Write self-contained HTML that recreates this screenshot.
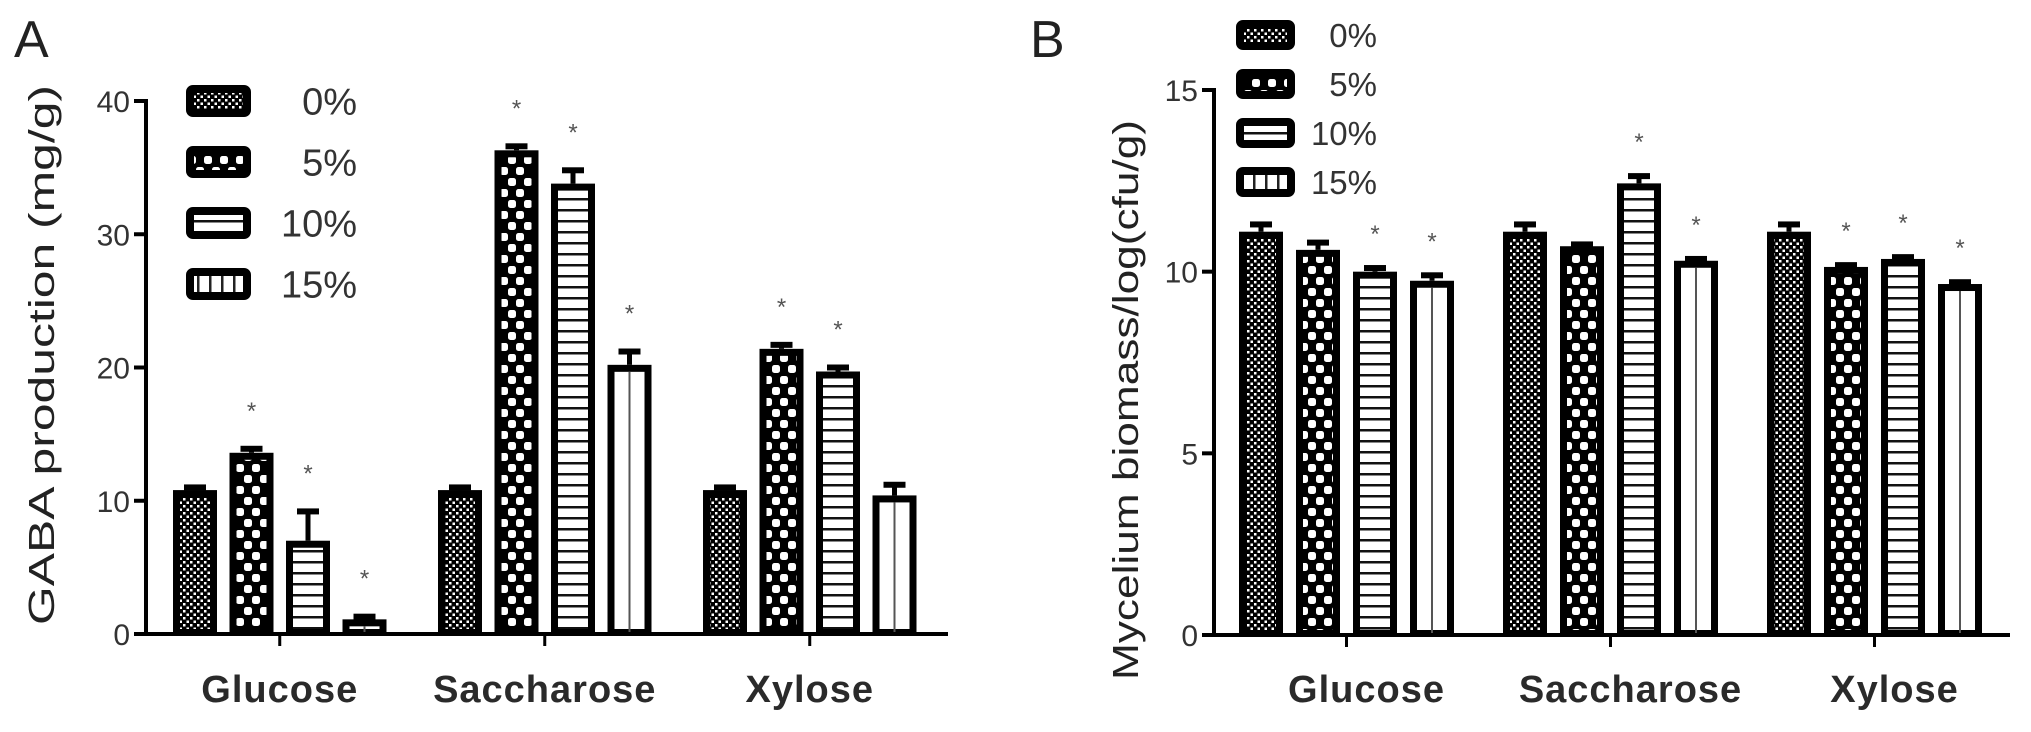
<!DOCTYPE html>
<html><head><meta charset="utf-8">
<style>
html,body{margin:0;padding:0;background:#fff;}
svg{display:block;}
text{font-family:"Liberation Sans",Arial,sans-serif;}
</style></head>
<body>
<svg id="fig" width="2031" height="732" viewBox="0 0 2031 732" xmlns="http://www.w3.org/2000/svg">
<defs>
  <pattern id="p0" patternUnits="userSpaceOnUse" width="7" height="7">
    <rect width="7" height="7" fill="#000"/>
    <rect x="1" y="1" width="2.5" height="2.5" fill="#fff"/>
    <rect x="4.5" y="4.5" width="2.5" height="2.5" fill="#fff"/>
  </pattern>
  <pattern id="p1" patternUnits="userSpaceOnUse" width="16" height="22">
    <rect width="16" height="22" fill="#000"/>
    <rect x="-4" y="2" width="8" height="8" rx="2.5" fill="#fff"/>
    <rect x="12" y="2" width="8" height="8" rx="2.5" fill="#fff"/>
    <rect x="4" y="13" width="8" height="8" rx="2.5" fill="#fff"/>
  </pattern>
  <pattern id="p2" patternUnits="userSpaceOnUse" width="10" height="11">
    <rect width="10" height="11" fill="#fff"/>
    <rect y="0" width="10" height="2.5" fill="#111"/>
  </pattern>
  <pattern id="p3" patternUnits="userSpaceOnUse" width="12" height="10">
    <rect width="12" height="10" fill="#fff"/>
    <rect x="5" width="2.5" height="10" fill="#222"/>
  </pattern>
</defs>
<g id="chartA"></g>
<g id="chartB"></g>
</svg>
<script>
const categories = ["Glucose", "Saccharose", "Xylose"];
const seriesNames = ["0%", "5%", "10%", "15%"];
// Chart A: GABA production (mg/g)
const gabaValues = [[10.8, 13.6, 7.0, 1.1],[10.8, 36.3, 33.8, 20.2],[10.8, 21.4, 19.7, 10.4]];
const gabaErrors = [[0.2, 0.3, 2.2, 0.2],[0.2, 0.3, 1.0, 1.0],[0.2, 0.3, 0.3, 0.8]];
const gabaSig = [[false, true, true, true],[false, true, true, true],[false, true, true, false]];
const gabaTicks = [0, 10, 20, 30, 40];
// Chart B: Mycelium biomass log(cfu/g)
const bioValues = [[11.1, 10.6, 10.0, 9.75],[11.1, 10.7, 12.43, 10.3],[11.1, 10.13, 10.35, 9.66]];
const bioErrors = [[0.2, 0.2, 0.1, 0.15],[0.2, 0.05, 0.2, 0.05],[0.2, 0.05, 0.05, 0.05]];
const bioSig = [[false, false, true, true],[false, false, true, true],[false, true, true, true]];
const bioTicks = [0, 5, 10, 15];

const NS = "http://www.w3.org/2000/svg";
function mk(parent, tag, attrs, txt){
  const e = document.createElementNS(NS, tag);
  for (const k in attrs) e.setAttribute(k, attrs[k]);
  if (txt !== undefined) e.textContent = txt;
  parent.appendChild(e);
  return e;
}
const fills = ["url(#p0)", "url(#p1)", "url(#p2)", "#fff"];

function drawChart(g, cfg){
  const y = v => cfg.y0 - v * (cfg.y0 - cfg.yTop) / cfg.yMax;
  const bx = (c, s) => cfg.x0 + c * cfg.groupPitch + s * cfg.barPitch;
  const letter = mk(g, "text", {x: cfg.letterX, y: 57, "font-size": 52, fill: "#222"}, cfg.letter);
  
  
  const yt = mk(g, "text", {x: 0, y: 0, "font-size": 36, fill: "#222", "text-anchor": "middle",
    textLength: cfg.titleLen, lengthAdjust: "spacingAndGlyphs",
    transform: `translate(${cfg.titleX},${cfg.titleY}) rotate(-90)`}, cfg.title);
  
  
  const ya = mk(g, "line", {x1: cfg.axisX, y1: y(cfg.yMax) - 2, x2: cfg.axisX, y2: cfg.y0 + 2, stroke: "#000", "stroke-width": 4});
  
  
  cfg.ticks.forEach(t => {
    const tk = mk(g, "line", {x1: cfg.axisX - 12, y1: y(t), x2: cfg.axisX, y2: y(t), stroke: "#000", "stroke-width": 4});
    
    
    const tl = mk(g, "text", {x: cfg.axisX - 16, y: y(t) + 11, "font-size": 30, fill: "#333", "text-anchor": "end"}, String(t));
    
    
  });
  const xa = mk(g, "line", {x1: cfg.axisX, y1: cfg.y0, x2: cfg.axisEnd, y2: cfg.y0, stroke: "#000", "stroke-width": 4});
  
  
  categories.forEach((cat, c) => {
    const cx = bx(c, 0) + (3 * cfg.barPitch + cfg.barW) / 2;
    const tk = mk(g, "line", {x1: cx, y1: cfg.y0, x2: cx, y2: cfg.y0 + 12, stroke: "#000", "stroke-width": 3});
    
    
    const lb = mk(g, "text", {x: cx + cfg.labelShift, y: 702, "font-size": 38, "font-weight": "bold", fill: "#2a2a2a", "text-anchor": "middle", "letter-spacing": "1"}, cat);
    
    
    seriesNames.forEach((sn, s) => {
      const v = cfg.values[c][s], e = cfg.errors[c][s];
      const x = bx(c, s);
      const top = y(v);
      const cxb = x + cfg.barW / 2;
      const el = mk(g, "line", {x1: cxb, y1: y(v + e), x2: cxb, y2: top, stroke: "#000", "stroke-width": 5});
      
      
      const cap = mk(g, "rect", {x: cxb - 11, y: y(v + e) - 3, width: 22, height: 6, fill: "#000"});
      
      
      const r = mk(g, "rect", {x: x + 3.5, y: top + 3.5, width: cfg.barW - 7, height: Math.max(cfg.y0 - top - 5, 0), fill: fills[s], stroke: "#000", "stroke-width": 7});
      
      
      if (s === 3) {
        const ln = mk(g, "line", {x1: cxb, y1: top + 7, x2: cxb, y2: cfg.y0 - 2, stroke: "#555", "stroke-width": 2});
        
        
      }
      if (cfg.sig[c][s]) {
        const st = mk(g, "text", {x: cxb, y: y(v + e) - cfg.starGap, "font-size": 24, fill: "#555", "text-anchor": "middle"}, "*");
        
        
      }
    });
  });
  seriesNames.forEach((sn, s) => {
    const ly = cfg.legY + s * cfg.legPitch;
    const box = mk(g, "rect", {x: cfg.legX + 4, y: ly + 4, width: cfg.legW - 8, height: cfg.legH - 8, rx: 3, fill: s === 3 ? "url(#p3)" : fills[s], stroke: "#000", "stroke-width": 8});
    
    
    const lt = mk(g, "text", {x: cfg.legTextX, y: ly + cfg.legH/2 + cfg.legFont*0.36, "font-size": cfg.legFont, fill: "#333", "text-anchor": "end"}, sn);
    
    
  });
}

drawChart(document.getElementById("chartA"), {
  letter: "A", letterX: 14, title: "GABA production (mg/g)", titleX: 54, titleY: 355, titleLen: 540,
  axisX: 146, axisEnd: 948, y0: 634, yTop: 101, yMax: 40, ticks: gabaTicks,
  x0: 173, groupPitch: 265, barPitch: 56.5, barW: 44, labelShift: 0,
  values: gabaValues, errors: gabaErrors, sig: gabaSig, starGap: 30,
  legX: 186, legY: 85, legW: 65, legH: 32, legPitch: 61, legTextX: 357, legFont: 38
});
drawChart(document.getElementById("chartB"), {
  letter: "B", letterX: 1030, title: "Mycelium biomass/log(cfu/g)", titleX: 1138, titleY: 400, titleLen: 560,
  axisX: 1214, axisEnd: 2010, y0: 635, yTop: 90, yMax: 15, ticks: bioTicks,
  x0: 1239, groupPitch: 264, barPitch: 57, barW: 44, labelShift: 20,
  values: bioValues, errors: bioErrors, sig: bioSig, starGap: 26,
  legX: 1236, legY: 20, legW: 59, legH: 30, legPitch: 49, legTextX: 1377, legFont: 33
});
</script>
</body></html>
